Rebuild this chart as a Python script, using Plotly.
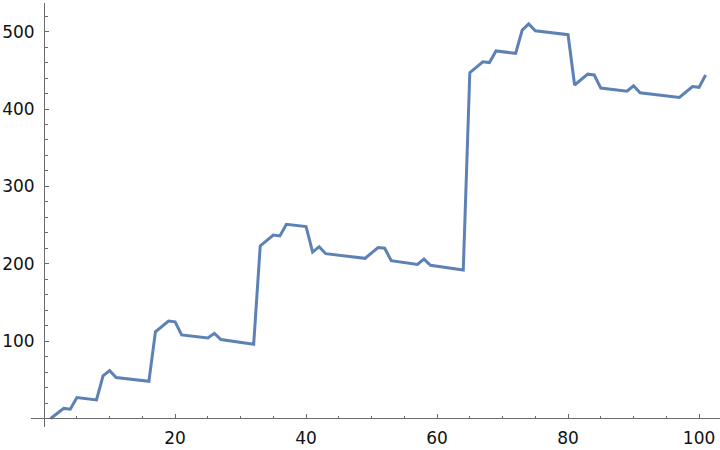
import plotly.graph_objects as go

x_vals = [1, 3, 4, 5, 8, 9, 10, 11, 16, 17, 19, 20, 21, 25, 26, 27, 32, 33, 35, 36, 37, 40,
          41, 42, 43, 49, 51, 52, 53, 57, 58, 59, 64, 65, 67, 68, 69, 72, 73, 74, 75, 80,
          81, 83, 84, 85, 89, 90, 91, 97, 99, 100, 101]
y_vals = [0, 13, 12, 27, 24, 55, 62, 53, 48, 112, 126, 125, 108, 104, 110, 102, 96, 223, 237, 236, 251, 248,
          215, 222, 213, 207, 221, 220, 204, 199, 206, 198, 192, 447, 461, 460, 475, 472, 502, 510, 501, 496,
          431, 445, 444, 427, 423, 430, 421, 415, 429, 428, 444]

x_ticks = [20, 40, 60, 80, 100]
y_ticks = [100, 200, 300, 400, 500]

xr = [-2, 103.2]
yr = [-11, 537]

fig = go.Figure()
fig.add_trace(go.Scatter(x=x_vals, y=y_vals, mode="lines",
                         line=dict(color="#5E81B5", width=3), hoverinfo="skip"))

axis_color = "#6b6b6b"
font = dict(family="DejaVu Sans", size=17, color="#111111")

fig.update_layout(
    width=720, height=450,
    margin=dict(l=31, r=0, t=3, b=23),
    paper_bgcolor="white", plot_bgcolor="white",
    showlegend=False,
    xaxis=dict(
        range=xr, showgrid=False, zeroline=False,
        showline=True, linecolor=axis_color, linewidth=1,
        anchor="free", position=(0 - yr[0]) / (yr[1] - yr[0]),
        tickmode="array", tickvals=x_ticks, ticktext=[str(v) for v in x_ticks],
        ticks="inside", ticklen=4, tickcolor=axis_color, tickwidth=1,
        minor=dict(ticks="inside", ticklen=2.5, tickcolor=axis_color, dtick=5, tick0=0, showgrid=False),
        tickfont=font, ticklabelstandoff=4,
    ),
    yaxis=dict(
        range=yr, showgrid=False, zeroline=False,
        showline=True, linecolor=axis_color, linewidth=1,
        anchor="free", position=(0 - xr[0]) / (xr[1] - xr[0]),
        tickmode="array", tickvals=y_ticks, ticktext=[str(v) for v in y_ticks],
        ticks="inside", ticklen=4, tickcolor=axis_color, tickwidth=1,
        minor=dict(ticks="inside", ticklen=2.5, tickcolor=axis_color, dtick=20, tick0=0, showgrid=False),
        tickfont=font, ticklabelstandoff=6,
    ),
)

fig.write_html("out.html", config={"displayModeBar": False},
               post_script="document.body.style.margin='0';")
